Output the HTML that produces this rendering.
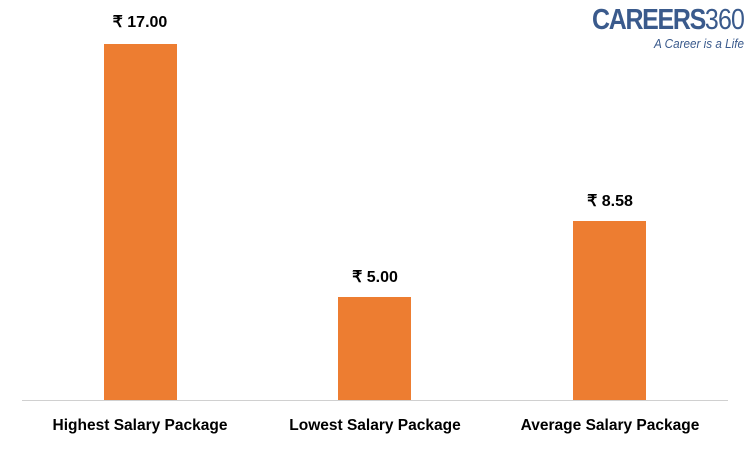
<!DOCTYPE html>
<html><head><style>
body{margin:0;width:750px;height:450px;background:#fff;position:relative;overflow:hidden;font-family:"Liberation Sans",sans-serif}
.bar{position:absolute;background:#ED7D31;width:73px}
.v,.l{position:absolute;font-weight:bold;color:#000;text-align:center;white-space:nowrap}
.v{font-size:16px;width:160px}
.l{font-size:15.5px;width:240px;top:417px}
</style></head><body>
<div style="position:absolute;left:22px;top:400px;width:706px;height:1px;background:#d0d0d0"></div>
<div class="bar" style="left:104px;top:44px;height:356px"></div>
<div class="bar" style="left:338px;top:297px;height:103px"></div>
<div class="bar" style="left:573px;top:221px;height:179px"></div>
<div class="v" style="left:60px;top:12px">₹ 17.00</div>
<div class="v" style="left:295px;top:267px">₹ 5.00</div>
<div class="v" style="left:530px;top:191px">₹ 8.58</div>
<div class="l" style="left:20px">Highest Salary Package</div>
<div class="l" style="left:255px">Lowest Salary Package</div>
<div class="l" style="left:490px">Average Salary Package</div>
<div style="position:absolute;left:592px;top:4px;font-size:29px;color:#3A5A8C;letter-spacing:-1.5px;white-space:nowrap;transform:scaleX(0.86);transform-origin:left top"><b>CAREERS</b><span style="font-weight:normal;letter-spacing:-1px">360</span></div>
<div style="position:absolute;right:6px;top:36px;font-size:13px;font-style:italic;color:#3A5A8C;white-space:nowrap;transform:scaleX(0.9);transform-origin:right top">A Career is a Life</div>
</body></html>
